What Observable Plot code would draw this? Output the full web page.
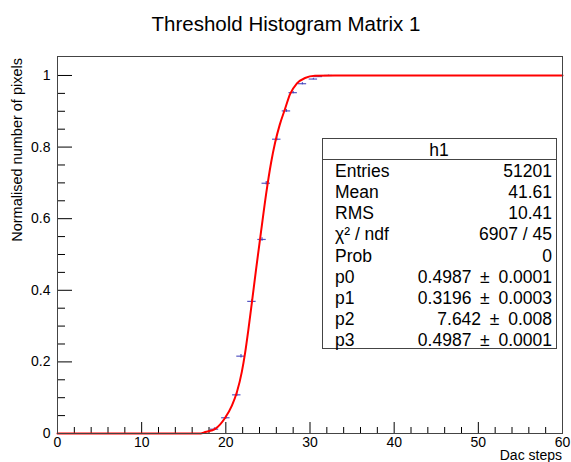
<!DOCTYPE html>
<html><head><meta charset="utf-8">
<script src="https://cdn.jsdelivr.net/npm/d3@7"></script>
<script src="https://cdn.jsdelivr.net/npm/@observablehq/plot@0.6"></script>
<style>body{margin:0;background:#fff} svg{display:block}</style>
</head><body><div id="chart"></div>
<script>
const title = "Threshold Histogram Matrix 1";
const xLabel = "Dac steps";
const yLabel = "Normalised number of pixels";
const xMajor = [0, 10, 20, 30, 40, 50, 60];
const xMinor = [2,4,6,8,12,14,16,18,22,24,26,28,32,34,36,38,42,44,46,48,52,54,56,58];
const yMajor = [0, 0.2, 0.4, 0.6, 0.8, 1];
const yMinor = [0.05,0.1,0.15,0.25,0.3,0.35,0.45,0.5,0.55,0.65,0.7,0.75,0.85,0.9,0.95];

// histogram bins (visible markers)
const binX   = [18.65, 20.0, 21.3, 21.8, 23.1, 24.3, 24.8, 26.05, 27.2, 28.0, 29.1, 30.4, 31.0, 32.2];
const binY   = [0.012, 0.044, 0.108, 0.216, 0.369, 0.542, 0.699, 0.822, 0.901, 0.952, 0.977, 0.990, 0.997, 1.0];
const binErr = [0.004, 0.004, 0.005, 0.005, 0.005, 0.005, 0.005, 0.004, 0.004, 0.003, 0.003, 0.002, 0.002, 0.001];

// fitted curve
const fitX = [0, 17, 17.55, 18.74, 19.92, 20.72, 21.31, 21.90, 22.29, 22.68, 23.09, 23.6, 24.19, 24.78, 25.38, 25.85, 26.4, 27.04, 27.63, 28.42, 29.41, 30.59, 32.96, 60];
const fitY = [0, 0, 0.004, 0.013, 0.044, 0.078, 0.115, 0.172, 0.225, 0.290, 0.365, 0.460, 0.565, 0.668, 0.757, 0.812, 0.862, 0.907, 0.948, 0.977, 0.993, 0.999, 1, 1];

const statsTitle = "h1";
const statsNames  = ["Entries", "Mean", "RMS", "\u03C7\u00B2 / ndf", "Prob", "p0", "p1", "p2", "p3"];
const PM = "\u2002\u00B1\u2002";
const statsValues = ["51201", "41.61", "10.41", "6907 / 45", "0", "0.4987" + PM + "0.0001", "0.3196" + PM + "0.0003", "7.642" + PM + "0.008", "0.4987" + PM + "0.0001"];

const bins = binX.map((x, i) => ({x, y: binY[i], e: binErr[i]}));
const fit = fitX.map((x, i) => ({x, y: fitY[i]}));

const W = 571, H = 462;
const mL = 57, mR = 9, mT = 56, mB = 29;
const fw = W - mL - mR, fh = H - mT - mB;
const font = "'Liberation Sans', Arial, Helvetica, sans-serif";
const markColor = "#3a3ab8";

const chart = Plot.plot({
  width: W, height: H,
  marginLeft: mL, marginRight: mR, marginTop: mT, marginBottom: mB,
  style: {fontFamily: font, fontSize: "14px", color: "#000", background: "#fff"},
  x: {domain: [0, 60]},
  y: {domain: [0, 1.053]},
  marks: [
    Plot.tickX(xMajor, {x: d => d, insetTop: fh - 11, stroke: "#000"}),
    Plot.tickX(xMinor, {x: d => d, insetTop: fh - 6, stroke: "#000"}),
    Plot.tickY(yMajor, {y: d => d, insetRight: fw - 15, stroke: "#000"}),
    Plot.tickY(yMinor, {y: d => d, insetRight: fw - 8, stroke: "#000"}),
    Plot.axisX({ticks: xMajor, tickSize: 0, tickPadding: 4, label: null, fontSize: 14, tickFormat: d => String(d)}),
    Plot.axisY({ticks: yMajor, tickSize: 0, tickPadding: 7, label: null, fontSize: 14, tickFormat: d => String(d)}),
    Plot.ruleY(bins, {y: "y", x1: d => d.x - 0.5, x2: d => d.x + 0.5, stroke: markColor, strokeWidth: 1.2, strokeOpacity: 0.85}),
    Plot.ruleX(bins, {x: "x", y1: d => d.y - d.e, y2: d => d.y + d.e, stroke: markColor, strokeWidth: 1.2, strokeOpacity: 0.85}),
    Plot.line(fit, {x: "x", y: "y", stroke: "#ff0000", strokeWidth: 2, curve: "monotone-x"}),
    Plot.frame({stroke: "#444", strokeWidth: 1})
  ]
});

const svg = d3.select(chart);
svg.append("text").attr("x", 286).attr("y", 31).attr("text-anchor", "middle")
  .attr("font-family", font).attr("font-size", 20.5).attr("fill", "#000").text(title);
svg.append("text").attr("x", W - mR).attr("y", 460).attr("text-anchor", "end")
  .attr("font-family", font).attr("font-size", 14).attr("fill", "#000").text(xLabel);
svg.append("text").attr("transform", `translate(22,${mT + 2}) rotate(-90)`).attr("text-anchor", "end")
  .attr("font-family", font).attr("font-size", 14.5).attr("fill", "#000").text(yLabel);

// stats box
const bx = 322, by = 138, bw = 234, bh = 210;
const g = svg.append("g").attr("font-family", font).attr("font-size", 17.5).attr("fill", "#000");
g.append("rect").attr("x", bx + 0.5).attr("y", by + 0.5).attr("width", bw).attr("height", bh)
  .attr("fill", "#fff").attr("stroke", "#444").attr("stroke-width", 1);
g.append("line").attr("x1", bx).attr("x2", bx + bw).attr("y1", 159.5).attr("y2", 159.5).attr("stroke", "#444");
g.append("text").attr("x", bx + bw / 2).attr("y", 150).attr("dy", "0.35em").attr("text-anchor", "middle").text(statsTitle);
statsNames.forEach((n, i) => {
  const yy = 171 + i * 21.1;
  g.append("text").attr("x", 335).attr("y", yy).attr("dy", "0.35em").attr("text-anchor", "start").text(n);
  g.append("text").attr("x", 552).attr("y", yy).attr("dy", "0.35em").attr("text-anchor", "end").text(statsValues[i]);
});

document.getElementById("chart").appendChild(chart);
</script>
</body></html>
